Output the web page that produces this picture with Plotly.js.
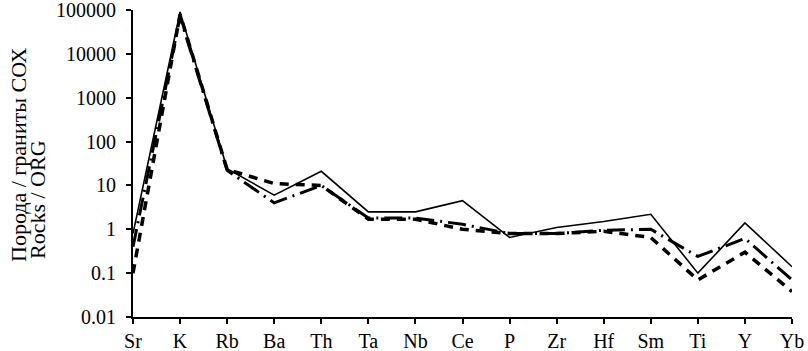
<!DOCTYPE html>
<html>
<head>
<meta charset="utf-8">
<script src="https://cdn.plot.ly/plotly-3.0.1.min.js"></script>
<style>html,body{margin:0;padding:0;background:#fff;}#chart{width:808px;height:351px;}</style>
</head>
<body>
<div id="chart"></div>
<script>
var elements = ["Sr","K","Rb","Ba","Th","Ta","Nb","Ce","P","Zr","Hf","Sm","Ti","Y","Yb"];
var seriesSolid   = [0.8, 90000, 24, 6, 21, 2.5, 2.5, 4.5, 0.65, 1.1, 1.5, 2.2, 0.1, 1.4, 0.14];
var seriesDashed  = [0.1, 80000, 23, 11, 10, 1.7, 1.7, 1.0, 0.8, 0.8, 0.9, 0.65, 0.07, 0.3, 0.038];
var seriesDashDot = [0.4, 70000, 22, 4, 10, 1.8, 1.8, 1.3, 0.8, 0.8, 0.95, 1.0, 0.24, 0.62, 0.07];
var yTickVals = [0.01, 0.1, 1, 10, 100, 1000, 10000, 100000];
var yTickText = ["0.01","0.1","1","10","100","1000","10000","100000"];
var yTitleLines = ["Порода / граниты СОХ", "Rocks / ORG"];

var xIdx = elements.map(function(_, i){ return i; });
var fam = "Liberation Serif, Times New Roman, serif";
var font = {family: fam, size: 20, color: "#000"};
var titleFont = {family: fam, size: 22, color: "#000"};

var traces = [
  {x: xIdx, y: seriesDashed, mode: "lines", line: {color: "#000", width: 3.5, dash: "9px,7px"}},
  {x: xIdx, y: seriesDashDot, mode: "lines", line: {color: "#000", width: 3, dash: "18px,6px,2px,6px"}},
  {x: xIdx, y: seriesSolid, mode: "lines", line: {color: "#000", width: 1.6}}
];

// plot area: x 133..792 px, y 10..317 px
var T = 10, B = 317;
function px2paperX(px){ return (px - 133) / 659; }
function px2paperY(py){ return (B - py) / (B - T); }

var layout = {
  width: 808, height: 351,
  margin: {l: 133, r: 16, t: T, b: 351 - B},
  paper_bgcolor: "#fff", plot_bgcolor: "#fff",
  showlegend: false,
  font: font,
  xaxis: {
    range: [0, 14], tickvals: xIdx, ticktext: elements,
    showgrid: false, zeroline: false, showline: true, linecolor: "#000", linewidth: 2,
    ticks: "outside", ticklen: 5, tickwidth: 2, tickcolor: "#000",
    tickfont: font
  },
  yaxis: {
    type: "log", range: [-2.0005, 5.0005], tickvals: yTickVals, ticktext: yTickText,
    showgrid: false, zeroline: false, showline: true, linecolor: "#000", linewidth: 2,
    ticks: "outside", ticklen: 5, tickwidth: 2, tickcolor: "#000",
    ticklabelstandoff: 6, ticklabeloverflow: "allow",
    tickfont: font
  },
  annotations: [
    {text: yTitleLines[0], textangle: -90, xref: "paper", yref: "paper",
     x: px2paperX(18), y: px2paperY(155), xanchor: "center", yanchor: "middle",
     showarrow: false, font: titleFont},
    {text: yTitleLines[1], textangle: -90, xref: "paper", yref: "paper",
     x: px2paperX(37), y: px2paperY(200), xanchor: "center", yanchor: "middle",
     showarrow: false, font: titleFont}
  ]
};
Plotly.newPlot("chart", traces, layout, {staticPlot: true});
</script>
</body>
</html>
